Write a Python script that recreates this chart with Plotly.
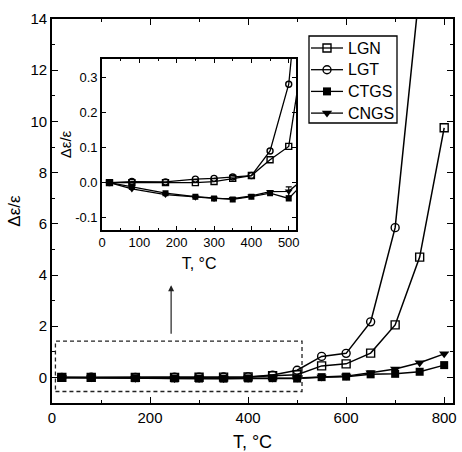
import plotly.graph_objects as go

T = [20, 80, 170, 250, 300, 350, 400, 450, 500, 550, 600, 650, 700, 750, 800]
LGN = [0.0, 0.0, 0.0, 0.0, 0.003, 0.012, 0.02, 0.065, 0.103, 0.45, 0.53, 0.95, 2.05, 4.7, 9.75]
T_LGT = [20, 80, 170, 250, 300, 350, 400, 450, 500, 550, 600, 650, 700, 750]
LGT = [0.0, 0.003, 0.002, 0.01, 0.012, 0.016, 0.02, 0.09, 0.28, 0.82, 0.94, 2.17, 5.85, 15.2]
CTGS = [0.0, -0.012, -0.03, -0.04, -0.045, -0.048, -0.04, -0.03, -0.045, 0.01, 0.03, 0.12, 0.14, 0.22, 0.48]
CNGS = [0.0, -0.018, -0.034, -0.042, -0.045, -0.046, -0.038, -0.026, -0.025, 0.02, 0.05, 0.18, 0.33, 0.57, 0.92]
CNGS_err = [0, 0, 0, 0, 0, 0, 0, 0, 0.013, 0, 0, 0, 0, 0, 0]

inset_yvals = [-0.1, 0.0, 0.1, 0.2, 0.3]
inset_ytext = ["-0.1", "0.0", "0.1", "0.2", "0.3"]

FONT = "Liberation Sans, Arial, sans-serif"
LINE = dict(color="black", width=1.5)

series = [
    ("LGN", T, LGN, dict(symbol="square-open", size=8, color="black", line=dict(width=1.4)), None),
    ("LGT", T_LGT, LGT, dict(symbol="circle-open", size=8, color="black", line=dict(width=1.4)), None),
    ("CTGS", T, CTGS, dict(symbol="square", size=8, color="black"), None),
    ("CNGS", T, CNGS, dict(symbol="triangle-down", size=9, color="black"), CNGS_err),
]

fig = go.Figure()
for name, x, y, mk, err in series:
    fig.add_trace(go.Scatter(x=x, y=y, name=name, mode="lines+markers", showlegend=False,
                             line=LINE, marker=mk, xaxis="x", yaxis="y"))
for name, x, y, mk, err in series:
    mk2 = dict(mk)
    mk2["size"] = mk["size"] - 2
    kw = {}
    if err is not None:
        kw["error_y"] = dict(type="data", array=err, color="black", thickness=1.2, width=3)
    fig.add_trace(go.Scatter(x=x, y=y, name=name, mode="lines+markers", showlegend=False,
                             line=dict(color="black", width=1.3), marker=mk2,
                             xaxis="x2", yaxis="y2", **kw))

# legend box drawn on an overlay axis measured in pixels of the plot area
LEG_X0, LEG_X1, LEG_Y0, LEG_Y1 = 309, 397, 36, 123
LEG_ROW0, LEG_ROW_GAP = 48, 21.7
for i, (name, x, y, mk, err) in enumerate(series):
    yy = LEG_ROW0 + LEG_ROW_GAP * i
    fig.add_trace(go.Scatter(x=[311, 343], y=[yy, yy], mode="lines", showlegend=False,
                             hoverinfo="skip", line=dict(color="black", width=1.3),
                             xaxis="x3", yaxis="y3"))
    fig.add_trace(go.Scatter(x=[327], y=[yy], mode="markers", showlegend=False,
                             hoverinfo="skip", marker=mk, xaxis="x3", yaxis="y3"))
    fig.add_annotation(x=346, y=yy, xref="x3", yref="y3", text=name, showarrow=False,
                       xanchor="left", yanchor="middle", font=dict(size=16))
fig.add_shape(type="rect", x0=LEG_X0, x1=LEG_X1, y0=LEG_Y0, y1=LEG_Y1, xref="x3", yref="y3",
              line=dict(color="black", width=1.3))

axis_common = dict(showline=True, linecolor="black", linewidth=1.6, mirror="ticks",
                   ticks="inside", tickcolor="black", showgrid=False, zeroline=False,
                   automargin=False)

fig.update_layout(
    width=462, height=452,
    margin=dict(l=52, r=9, t=19, b=49),
    paper_bgcolor="white", plot_bgcolor="white",
    font=dict(family=FONT, color="black", size=15),
    xaxis=dict(range=[0, 818], dtick=200, ticklen=6, tickwidth=1.2,
               minor=dict(ticks="inside", dtick=100, ticklen=3, tickcolor="black"),
               title=dict(text="T, °C", font=dict(size=18), standoff=13),
               tickfont=dict(size=15), **axis_common),
    yaxis=dict(range=[-1, 14], dtick=2, ticklen=6, tickwidth=1.2,
               minor=dict(ticks="inside", dtick=1, ticklen=3, tickcolor="black"),
               title=dict(text="Δε/ε", font=dict(size=17), standoff=6),
               tickfont=dict(size=15), **axis_common),
    xaxis2=dict(domain=[0.1247, 0.609], anchor="y2", range=[0, 520], dtick=100, ticklen=4,
                minor=dict(ticks="inside", dtick=50, ticklen=2, tickcolor="black"),
                title=dict(text="T, °C", font=dict(size=16), standoff=8),
                tickfont=dict(size=13), **axis_common),
    yaxis2=dict(domain=[0.4505, 0.896], anchor="x2", range=[-0.135, 0.352], ticklen=4,
                tickvals=inset_yvals, ticktext=inset_ytext,
                title=dict(text="Δε/ε", font=dict(size=15), standoff=0),
                tickfont=dict(size=13), **axis_common),
    xaxis3=dict(overlaying="x", anchor="y3", range=[52, 453], visible=False, fixedrange=True),
    yaxis3=dict(overlaying="y", anchor="x3", range=[403, 19], visible=False, fixedrange=True),
    showlegend=False,
)

fig.add_shape(type="rect", x0=7, x1=510, y0=-0.55, y1=1.42, xref="x", yref="y",
              line=dict(color="#222", width=1.3, dash="4px,3px"))
fig.add_annotation(x=243, y=3.6, ax=243, ay=1.65, xref="x", yref="y", axref="x", ayref="y",
                   showarrow=True, arrowhead=2, arrowsize=1, arrowwidth=1.2, arrowcolor="#222",
                   text="")

fig.write_html("out.html")
